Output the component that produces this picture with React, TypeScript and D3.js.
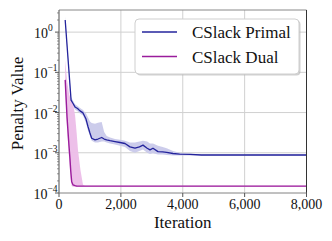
import * as d3 from "d3";

// iterations and penalty values
const primalIter = [200, 390, 450, 517, 600, 679, 776, 873, 937, 1000, 1057, 1164, 1260, 1380, 1460, 1542, 1650, 1810, 1972, 2133, 2295, 2456, 2600, 2715, 2850, 2941, 3038, 3200, 3350, 3481, 3684, 3900, 4234, 4600, 5500, 6500, 8000];
const primalMean = [2.0, 0.0204, 0.017, 0.0138, 0.0126, 0.011, 0.0098, 0.0069, 0.0045, 0.0031, 0.0023, 0.0021, 0.0022, 0.0024, 0.0022, 0.0021, 0.002, 0.0019, 0.0018, 0.0017, 0.0014, 0.0013, 0.0014, 0.00155, 0.0013, 0.00118, 0.0013, 0.00107, 0.00105, 0.00102, 0.00096, 0.00093, 0.00091, 0.00088, 0.00088, 0.00088, 0.00088];
const primalUpper = [2.4, 0.024, 0.02, 0.016, 0.0145, 0.013, 0.0115, 0.0095, 0.0075, 0.006, 0.0055, 0.0053, 0.0056, 0.0058, 0.0033, 0.0026, 0.0024, 0.0022, 0.0021, 0.002, 0.0018, 0.0018, 0.0019, 0.002, 0.0019, 0.0017, 0.0017, 0.0015, 0.0014, 0.0013, 0.0011, 0.001, 0.00095, 0.00091, 0.00091, 0.00091, 0.00091];
const primalLower = [1.7, 0.017, 0.0145, 0.012, 0.0108, 0.0095, 0.0085, 0.0055, 0.0036, 0.0026, 0.002, 0.0018, 0.0018, 0.0019, 0.0019, 0.0018, 0.0017, 0.0016, 0.0015, 0.0014, 0.0011, 0.001, 0.0011, 0.0012, 0.001, 0.00093, 0.00098, 0.0009, 0.0009, 0.00088, 0.00086, 0.00086, 0.00086, 0.00085, 0.00085, 0.00085, 0.00085];

const dualIter = [200, 260, 323, 355, 380, 410, 452, 520, 572, 614, 695, 776, 840, 8000];
const dualMean = [0.065, 0.0076, 0.0015, 0.0007, 0.00035, 0.00019, 0.00016, 0.000152, 0.000148, 0.000148, 0.000148, 0.000148, 0.000148, 0.000148];
const dualUpper = [0.2, 0.063, 0.03, 0.0245, 0.021, 0.019, 0.0175, 0.0085, 0.003, 0.00118, 0.00037, 0.00016, 0.000152, 0.000152];
const dualLower = [0.04, 0.004, 0.0008, 0.0004, 0.00022, 0.00015, 0.000144, 0.000144, 0.000144, 0.000144, 0.000144, 0.000144, 0.000144, 0.000144];

const xTicks = [0, 2000, 4000, 6000, 8000];
const yTickExp = [0, -1, -2, -3, -4];

const series = [
  { name: "CSlack Primal", iter: primalIter, mean: primalMean, upper: primalUpper, lower: primalLower, color: "#24249c", fill: "#c9c9ea", width: 1.3 },
  { name: "CSlack Dual", iter: dualIter, mean: dualMean, upper: dualUpper, lower: dualLower, color: "#9a1c9c", fill: "#ecbde8", width: 1.4 },
];

const W = 332;
const H = 241;
const m = { left: 59, right: 306.5, top: 10, bottom: 193 };
const font = "'Liberation Serif', 'Times New Roman', serif";

export default function App() {
  const x = d3.scaleLinear().domain([0, 8000]).range([m.left, m.right]);
  const y = d3.scaleLog().domain([1e-4, Math.pow(10, 0.55)]).range([m.bottom, m.top]);
  const fmt = d3.format(",");

  const minor: number[] = [];
  for (let e = -4; e < 1; e++) {
    for (let k = 2; k <= 9; k++) {
      const v = k * Math.pow(10, e);
      if (v <= y.domain()[1]) minor.push(v);
    }
  }

  return (
    <svg width={W} height={H} style={{ position: "absolute", left: 0, top: 0 }}>
      <defs>
        <clipPath id="plot">
          <rect x={m.left} y={m.top} width={m.right - m.left} height={m.bottom - m.top} />
        </clipPath>
      </defs>
      <rect width={W} height={H} fill="#fff" />
      {/* grid */}
      {xTicks.map((t) => (
        <line key={"gx" + t} x1={x(t)} x2={x(t)} y1={m.top} y2={m.bottom} stroke="#d0d0d0" strokeWidth={1} />
      ))}
      {yTickExp.map((e) => (
        <line key={"gy" + e} x1={m.left} x2={m.right} y1={y(Math.pow(10, e))} y2={y(Math.pow(10, e))} stroke="#d0d0d0" strokeWidth={1} />
      ))}
      {/* bands and lines */}
      <g clipPath="url(#plot)">
        {series.map((s) => {
          const idx = d3.range(s.iter.length);
          const area = d3
            .area<number>()
            .x((i) => x(s.iter[i]))
            .y0((i) => y(s.lower[i]))
            .y1((i) => y(s.upper[i]));
          return <path key={s.name + "a"} d={area(idx) || ""} fill={s.fill} opacity={0.95} />;
        })}
        {series.map((s) => {
          const idx = d3.range(s.iter.length);
          const line = d3
            .line<number>()
            .x((i) => x(s.iter[i]))
            .y((i) => y(s.mean[i]));
          return <path key={s.name + "l"} d={line(idx) || ""} fill="none" stroke={s.color} strokeWidth={s.width} strokeLinejoin="round" />;
        })}
      </g>
      {/* spines */}
      <line x1={m.left} x2={m.right} y1={m.top} y2={m.top} stroke="#888" strokeWidth={1} />
      <line x1={m.right} x2={m.right} y1={m.top} y2={m.bottom} stroke="#333" strokeWidth={1} />
      <line x1={m.left} x2={m.right} y1={m.bottom} y2={m.bottom} stroke="#999" strokeWidth={1.2} />
      <line x1={m.left} x2={m.left} y1={m.top} y2={m.bottom} stroke="#666" strokeWidth={1} />
      {/* x ticks */}
      {xTicks.map((t) => (
        <g key={"xt" + t}>
          <line x1={x(t)} x2={x(t)} y1={m.bottom} y2={m.bottom + 4} stroke="#555" />
          <text x={x(t)} y={m.bottom + 16} textAnchor="middle" fontFamily={font} fontSize={14} fill="#111">
            {fmt(t)}
          </text>
        </g>
      ))}
      {/* y ticks */}
      {minor.map((v) => (
        <line key={"mt" + v} x1={m.left - 2} x2={m.left} y1={y(v)} y2={y(v)} stroke="#666" strokeWidth={0.7} />
      ))}
      {yTickExp.map((e) => {
        const ty = y(Math.pow(10, e));
        return (
          <g key={"yt" + e}>
            <line x1={m.left - 4} x2={m.left} y1={ty} y2={ty} stroke="#555" />
            <text x={e < 0 ? 47.5 : 48} y={ty + 6} textAnchor="end" fontFamily={font} fontSize={14} fill="#111">
              10
            </text>
            <text x={e < 0 ? 47.5 : 48} y={ty - 1} textAnchor="start" fontFamily={font} fontSize={9.5} fill="#111">
              {e === 0 ? "0" : "\u2212" + Math.abs(e)}
            </text>
          </g>
        );
      })}
      {/* axis labels */}
      <text transform={`translate(23,${(m.top + m.bottom) / 2 + 2}) rotate(-90)`} textAnchor="middle" fontFamily={font} fontSize={17} fill="#111">
        Penalty Value
      </text>
      <text x={(m.left + m.right) / 2} y={228} textAnchor="middle" fontFamily={font} fontSize={17} fill="#111">
        Iteration
      </text>
      {/* legend */}
      <g>
        <rect x={136.5} y={20.5} width={164} height={55} rx={4} fill="#b0b0b0" opacity={0.6} />
        <rect x={135} y={19} width={164} height={55} rx={4} fill="#fff" stroke="#cfcfcf" strokeWidth={1} />
        {series.map((s, i) => (
          <g key={"lg" + s.name}>
            <line x1={142} x2={177} y1={32 + i * 24.5} y2={32 + i * 24.5} stroke={s.color} strokeWidth={1.4} />
            <text x={192} y={38 + i * 24.5} fontFamily={font} fontSize={17} fill="#111">
              {s.name}
            </text>
          </g>
        ))}
      </g>
    </svg>
  );
}
